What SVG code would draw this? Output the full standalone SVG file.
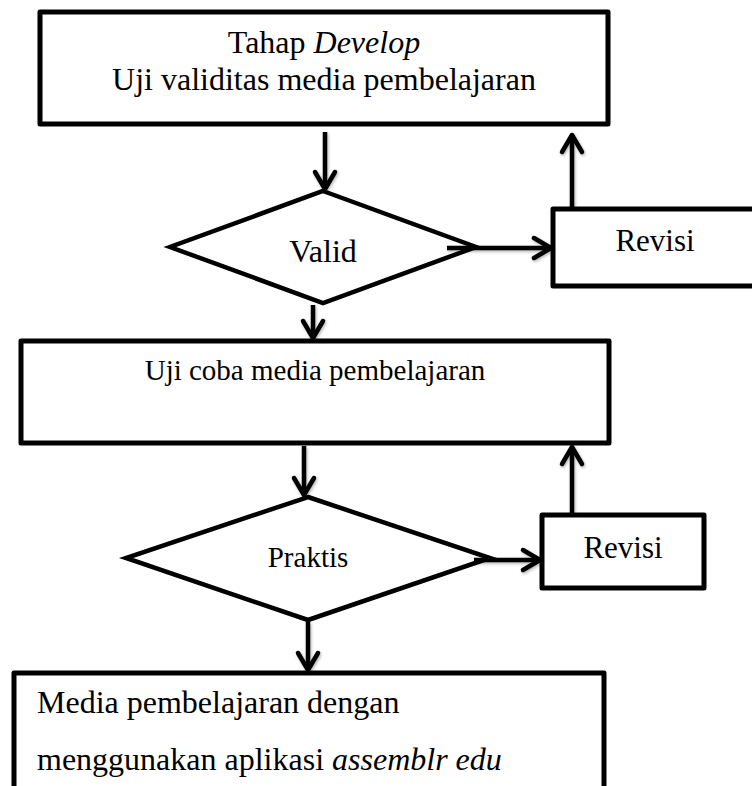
<svg xmlns="http://www.w3.org/2000/svg" width="752" height="786" viewBox="0 0 752 786">
  <defs>
    <marker id="arrow" markerUnits="userSpaceOnUse" viewBox="-24 -14 28 28" markerWidth="28" markerHeight="28" refX="0" refY="0" orient="auto" overflow="visible">
      <path d="M-17,-10 L0,0 L-17,10" fill="none" stroke="#000" stroke-width="4.5" stroke-linecap="round" stroke-linejoin="round"/>
    </marker>
    <filter id="shadow" x="-50%" y="-50%" width="200%" height="200%">
      <feDropShadow dx="1" dy="1.5" stdDeviation="1.5" flood-color="#000" flood-opacity="0.3"/>
    </filter>
  </defs>
  <style>
    .box { fill: #fff; stroke: #000; stroke-width: 5; stroke-linejoin: round; }
    .dia { fill: #fff; stroke: #000; stroke-width: 4.5; stroke-linejoin: miter; }
    .conn { fill: none; stroke: #000; stroke-width: 4.5; marker-end: url(#arrow); }
    .t { font-family: "Liberation Serif", "Times New Roman", serif; fill: #000; }
  </style>
  <rect width="752" height="786" fill="#fff"/>

  <g id="develop">
    <rect class="box" x="40" y="12" width="568" height="112"/>
    <text class="t" x="324" y="53" font-size="32" text-anchor="middle">Tahap <tspan font-style="italic">Develop</tspan></text>
    <text class="t" x="324" y="90" font-size="32" text-anchor="middle">Uji validitas media pembelajaran</text>
  </g>

  <g id="valid">
    <polygon class="dia" points="323,191 476,247 323,303 170,247"/>
    <text class="t" x="323" y="262" font-size="32" text-anchor="middle">Valid</text>
  </g>

  <g id="revisi1">
    <rect class="box" x="553" y="209" width="210" height="77"/>
    <text class="t" x="655" y="251" font-size="31" text-anchor="middle">Revisi</text>
  </g>

  <g id="ujicoba">
    <rect class="box" x="21" y="341" width="588" height="102"/>
    <text class="t" x="315" y="380" font-size="29" text-anchor="middle">Uji coba media pembelajaran</text>
  </g>

  <g id="praktis">
    <polygon class="dia" points="308,497 490,558 308,620 126,558"/>
    <text class="t" x="308" y="567" font-size="29" text-anchor="middle">Praktis</text>
  </g>

  <g id="revisi2">
    <rect class="box" x="542" y="515" width="162" height="73"/>
    <text class="t" x="623" y="558" font-size="31" text-anchor="middle">Revisi</text>
  </g>

  <g id="hasil">
    <rect class="box" x="14" y="673" width="590" height="140"/>
    <text class="t" x="37" y="713" font-size="32">Media pembelajaran dengan</text>
    <text class="t" x="37" y="770" font-size="32">menggunakan aplikasi <tspan font-style="italic">assemblr edu</tspan></text>
  </g>

  <g id="connectors" filter="url(#shadow)">
    <line class="conn" x1="325" y1="132" x2="325" y2="189"/>
    <line class="conn" x1="447" y1="248" x2="551" y2="248"/>
    <line class="conn" x1="572" y1="207" x2="572" y2="135"/>
    <line class="conn" x1="313" y1="305" x2="313" y2="338"/>
    <line class="conn" x1="304" y1="446" x2="304" y2="495"/>
    <line class="conn" x1="474" y1="560" x2="540" y2="560"/>
    <line class="conn" x1="572" y1="513" x2="572" y2="447"/>
    <line class="conn" x1="308" y1="622" x2="308" y2="670"/>
  </g>
</svg>
